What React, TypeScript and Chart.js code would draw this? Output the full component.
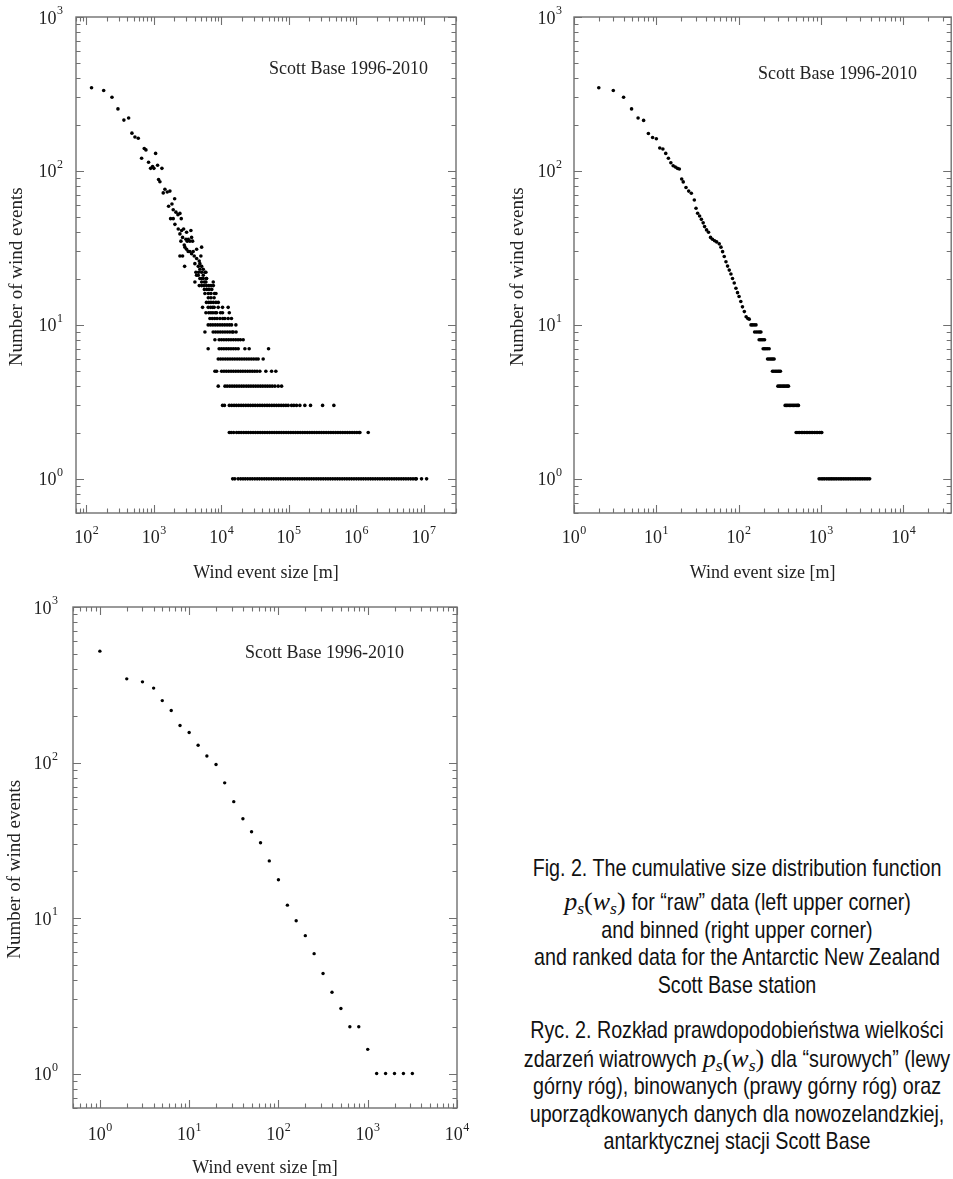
import React, { useEffect, useRef } from "react";
import { Chart, registerables } from "chart.js";

Chart.register(...registerables);

const SERIF = '"Liberation Serif", "Times New Roman", Times, serif';
const SANS = '"Liberation Sans", Arial, Helvetica, sans-serif';

// ---------------- texts ----------------
const panelTitle = "Scott Base 1996-2010";
const xAxisTitle = "Wind event size [m]";
const yAxisTitle = "Number of wind events";

// ---------------- tick labels (10 with exponent) ----------------
const tickBase = "10";
const yTickValues = [1, 10, 100, 1000];
const yTickExps = ["0", "1", "2", "3"];
const xTickValuesRaw = [1e2, 1e3, 1e4, 1e5, 1e6, 1e7];
const xTickExpsRaw = ["2", "3", "4", "5", "6", "7"];
const xTickValuesSmall = [1, 10, 100, 1000, 10000];
const xTickExpsSmall = ["0", "1", "2", "3", "4"];

// ---------------- raw data (upper left) ----------------
const rawScatterSizes = [119, 180, 239, 293, 359, 422, 472, 523, 586, 657, 719, 761, 833, 893, 955, 1000, 1059, 1133, 1314, 1172, 1227, 1374, 1455, 1575, 1726, 1650, 1850, 2028, 1932, 2120, 2270, 2428, 1767, 1932, 2541, 2047, 2293, 2571, 2754, 3050, 3533, 2428, 2660, 2980, 3226, 3616, 2512, 2814, 3113, 3412, 3742, 2877, 3222, 3614, 2660, 4296, 5094, 3955, 4296, 4690, 4966, 4046, 4539, 4800, 5094, 2850, 5383, 4188, 4592, 5094, 5702, 4285, 4540, 5383, 6026, 5094, 4800, 5890, 3820, 3050, 2430, 3415];
const rawScatterCounts = [347, 333, 301, 253, 214, 221, 176, 166, 163, 121, 140, 137, 114, 104, 107, 104, 130, 109, 104, 88, 85, 72, 76, 73, 74, 59, 61, 66, 56, 54, 52, 53, 49, 49, 49, 45, 42, 41, 42, 40, 41, 39, 37, 36, 36, 37, 35, 33, 35, 35, 35, 32, 30, 29, 28, 31, 32, 28, 27, 26, 28, 25, 24, 25, 24, 24, 23, 22, 22, 22, 22, 21, 21, 21, 20, 20, 23, 22, 30, 31, 28, 30];

const rawRowCounts = [1, 2, 3, 4, 5, 6, 7, 8, 9, 10, 11, 12, 13, 14, 15, 16, 17, 18, 19, 20];
const rawRowSizes = [
  [14700, 15800, 17700, 19300, 20900, 22600, 24500, 26600, 28800, 31300, 33900, 36700, 39800, 43200, 46800, 50700, 55000, 59600, 64600, 70000, 75900, 82200, 89100, 96600, 104700, 113500, 123000, 133400, 144500, 156700, 169800, 184100, 199500, 216300, 234400, 254100, 275400, 298500, 323600, 350800, 380200, 412100, 446700, 484200, 524800, 568900, 616600, 668300, 724400, 785200, 851100, 922600, 1000000, 1084000, 1175000, 1274000, 1380000, 1496000, 1622000, 1758000, 1905000, 2065000, 2239000, 2427000, 2630000, 2851000, 3090000, 3350000, 3631000, 3936000, 4266000, 4624000, 5012000, 5433000, 5888000, 6383000, 6918000, 7499000, 7760000, 9250000, 11000000],
  [13100, 14000, 15200, 16800, 18200, 19700, 21400, 23200, 25100, 27200, 29500, 32000, 34700, 37600, 40700, 44100, 47800, 51800, 56200, 60900, 66000, 71500, 77500, 84000, 91000, 98600, 106900, 115800, 125500, 136000, 147400, 159800, 173200, 187700, 203400, 220400, 238900, 258900, 280600, 304100, 329600, 357200, 387100, 419500, 454700, 492800, 534100, 578800, 627300, 679900, 736800, 798600, 865500, 938000, 1016600, 1101800, 1130000, 1500000],
  [10400, 11100, 13100, 14200, 15400, 16700, 18100, 19600, 21200, 23000, 24900, 27000, 29300, 31700, 34400, 37300, 40400, 43800, 47500, 51400, 55800, 60400, 65500, 71000, 77000, 83400, 90400, 97700, 109600, 118600, 130000, 145600, 172600, 209400, 316000, 464500],
  [8980, 11300, 12200, 13300, 14400, 15600, 16900, 18300, 19900, 21500, 23400, 25300, 27400, 29700, 32200, 34900, 37900, 41000, 44500, 48200, 52300, 56700, 62100, 69500, 78000],
  [8020, 8490, 10070, 10920, 11830, 12830, 13900, 15070, 16340, 17710, 19200, 20810, 22560, 24450, 26500, 28730, 31150, 33760, 37150, 45600, 55450, 64100],
  [8980, 9730, 10550, 11440, 12400, 13440, 14570, 15790, 17120, 18560, 20110, 21800, 23640, 25620, 27770, 30100, 32630, 35100, 41600],
  [6370, 9270, 10050, 10890, 11810, 12800, 13870, 15040, 16300, 17750, 22300, 25800, 50000],
  [8020, 9270, 10050, 10890, 11810, 12800, 13870, 15040, 16300, 17670, 19150, 21040],
  [5700, 7550, 8190, 8880, 9630, 10440, 11320, 12270, 13300, 14420, 14960, 16500],
  [6370, 6900, 7480, 8110, 8790, 9530, 10330, 11200, 12140, 13160, 14160, 16400],
  [6760, 7330, 7950, 8620, 9510, 10500, 11270, 12600, 14100],
  [5900, 6500, 7000, 7500, 8100, 8500, 9700, 10400, 13100],
  [5260, 6370, 6900, 7400, 7810, 8980, 10400, 12600],
  [6000, 6500, 7000, 7600, 8300, 9000],
  [6400, 7000, 7800],
  [5700, 6400, 7000, 7900, 8300],
  [5600, 6100, 6600, 7200],
  [4700, 5100, 5500, 6000, 6500, 7000, 7600],
  [4050, 5100, 5600, 5900, 7570],
  [4800, 5400, 6000],
];

// ---------------- binned data (upper right) ----------------
const binChainSizes = [2, 3, 4, 5, 6, 7, 8, 9, 10, 11, 12, 13, 14, 15, 16, 17, 18, 19, 20.3, 21.2, 22.9, 24.7, 26.6, 28.9, 30.3, 31.7, 33.5, 35.2, 37, 38.5, 40.7, 43, 45.5, 48, 51, 54, 58, 60.9, 63.7, 66.7, 70, 73.2, 76.7, 80.4, 84.1, 88.2, 92.5, 96.7, 101, 106, 111, 117, 123, 129, 134];
const binChainCounts = [347, 333, 301, 253, 221, 213, 175, 165, 162, 141, 139, 130, 121, 113, 108, 106, 104, 103, 88.7, 84.9, 78, 74, 71.7, 64.8, 57.3, 53.1, 51, 48.5, 46, 43.5, 41.4, 40, 37, 36, 35.2, 34.6, 33.6, 32, 29.9, 27.8, 25.7, 24.1, 22.7, 21.4, 20, 18.7, 17.3, 16.2, 15.3, 14.2, 13.1, 12.2, 11.3, 11, 10.9];
const binRowCounts = [10, 9, 8, 7, 6, 5, 4, 3, 2, 1];
const binRowSizes = [
  [141, 147, 154, 162],
  [156, 164, 172, 180, 186],
  [177, 184, 191, 198, 206],
  [198, 206, 214, 223, 234],
  [224, 233, 242, 251, 260, 269],
  [257, 267, 278, 289, 300, 310, 321],
  [299, 311, 323, 336, 349, 362, 376, 390, 402],
  [366, 381, 396, 412, 428, 445, 463, 481, 500, 520, 531],
  [498, 525, 550, 575, 600, 630, 660, 690, 720, 755, 790, 830, 870, 910, 955, 1000, 1019],
  [946, 1000, 1050, 1100, 1160, 1220, 1280, 1340, 1400, 1470, 1540, 1620, 1700, 1780, 1870, 1960, 2060, 2160, 2270, 2380, 2500, 2620, 2750, 2890, 3030, 3180, 3340, 3510, 3690, 3890],
];

// ---------------- ranked data (bottom) ----------------
const rankSizes = [1, 2, 3, 4, 5, 6.3, 7.9, 10, 12.6, 15.8, 20, 25, 31.6, 40, 50, 63, 79, 100, 126, 158, 200, 251, 316, 398, 501, 631, 794, 1000, 1259, 1585, 1995, 2512, 3162];
const rankCounts = [520, 345, 330, 301, 250, 216, 173, 156, 129, 110, 97, 74, 56, 43.5, 35.9, 30.5, 23.3, 17.6, 12.1, 9.6, 7.7, 5.9, 4.4, 3.33, 2.62, 2, 2, 1.43, 1, 1, 1, 1, 1];

// ---------------- build point lists ----------------
type Pt = { x: number; y: number };
const zipPts = (xs: number[], ys: number[]): Pt[] => xs.map((x, i) => ({ x, y: ys[i] }));
const rowPts = (counts: number[], rows: number[][]): Pt[] =>
  rows.flatMap((sizes, i) => sizes.map((s) => ({ x: s, y: counts[i] })));

const rawPoints = [...zipPts(rawScatterSizes, rawScatterCounts), ...rowPts(rawRowCounts, rawRowSizes)];
const binPoints = [...zipPts(binChainSizes, binChainCounts), ...rowPts(binRowCounts, binRowSizes)];
const rankPoints = zipPts(rankSizes, rankCounts);

// ---------------- frame + inward ticks plugin ----------------
const frameTicksPlugin = {
  id: "frameTicks",
  afterDatasetsDraw(chart: any) {
    const { ctx, chartArea: a } = chart;
    const xs = chart.scales.x;
    const ys = chart.scales.y;
    const marks = (scale: any) => {
      const out: [number, boolean][] = [];
      const lo = Math.floor(Math.log10(scale.min));
      const hi = Math.ceil(Math.log10(scale.max));
      for (let e = lo; e <= hi; e++) {
        for (let m = 1; m <= 9; m++) {
          const v = m * Math.pow(10, e);
          if (v >= scale.min * 0.999 && v <= scale.max * 1.001) out.push([v, m === 1]);
        }
      }
      return out;
    };
    ctx.save();
    ctx.strokeStyle = "#707070";
    ctx.lineWidth = 1.4;
    ctx.strokeRect(a.left, a.top, a.right - a.left, a.bottom - a.top);
    ctx.lineWidth = 1.1;
    ctx.beginPath();
    for (const [v, major] of marks(xs)) {
      const px = Math.round(xs.getPixelForValue(v)) + 0.5;
      const L = major ? 8 : 4.5;
      ctx.moveTo(px, a.bottom);
      ctx.lineTo(px, a.bottom - L);
      ctx.moveTo(px, a.top);
      ctx.lineTo(px, a.top + L);
    }
    for (const [v, major] of marks(ys)) {
      const py = Math.round(ys.getPixelForValue(v)) + 0.5;
      const L = major ? 8 : 4.5;
      ctx.moveTo(a.left, py);
      ctx.lineTo(a.left + L, py);
      ctx.moveTo(a.right, py);
      ctx.lineTo(a.right - L, py);
    }
    ctx.stroke();
    ctx.restore();
  },
};

// ---------------- "10^n" tick labels drawn at scale positions ----------------
const powerLabelsPlugin = {
  id: "powerLabels",
  afterDraw(chart: any, _args: any, opts: any) {
    const { ctx, chartArea: a } = chart;
    const xs = chart.scales.x;
    const ys = chart.scales.y;
    const big = `18px ${SERIF}`;
    const small = `12px ${SERIF}`;
    ctx.save();
    ctx.fillStyle = "#222";
    ctx.textBaseline = "alphabetic";
    ctx.textAlign = "left";
    const measure = (exp: string) => {
      ctx.font = big;
      const w1 = ctx.measureText(tickBase).width;
      ctx.font = small;
      return { w1, w: w1 + 0.5 + ctx.measureText(exp).width };
    };
    const draw = (exp: string, left: number, base: number, w1: number) => {
      ctx.font = big;
      ctx.fillText(tickBase, left, base);
      ctx.font = small;
      ctx.fillText(exp, left + w1 + 0.5, base - 9.5);
    };
    opts.xTicks.forEach((v: number, i: number) => {
      const px = xs.getPixelForValue(v);
      const { w1, w } = measure(opts.xExps[i]);
      draw(opts.xExps[i], px - w / 2, a.bottom + opts.xBaseOffset, w1);
    });
    yTickValues.forEach((v: number, i: number) => {
      const py = ys.getPixelForValue(v);
      const { w1, w } = measure(yTickExps[i]);
      draw(yTickExps[i], a.left - opts.yRightGap - w, py + 6.5, w1);
    });
    ctx.restore();
  },
};

type PanelProps = {
  left: number; top: number; width: number; height: number;
  points: Pt[]; radius: number;
  xMin: number; xMax: number; yMin: number; yMax: number;
  xTicks: number[]; xExps: string[];
  padTop: number; padRight: number;
  yAxisWidth: number; xAxisHeight: number;
  yRightGap: number; xBaseOffset: number; yTitlePad: number; xTitlePad: number;
};

function Panel(p: PanelProps) {
  const ref = useRef<HTMLCanvasElement>(null);
  useEffect(() => {
    if (!ref.current) return;
    const chart = new Chart(ref.current, {
      type: "scatter",
      data: {
        datasets: [
          {
            data: p.points,
            backgroundColor: "#000",
            borderWidth: 0,
            pointRadius: p.radius,
            pointHoverRadius: p.radius,
          },
        ],
      },
      options: {
        animation: false,
        responsive: false,
        events: [],
        layout: { padding: { top: p.padTop, right: p.padRight, left: 0, bottom: 0 } },
        plugins: {
          legend: { display: false },
          tooltip: { enabled: false },
          powerLabels: {
            xTicks: p.xTicks,
            xExps: p.xExps,
            xBaseOffset: p.xBaseOffset,
            yRightGap: p.yRightGap,
          },
        },
        scales: {
          x: {
            type: "logarithmic",
            position: "bottom",
            bounds: "data",
            min: p.xMin,
            max: p.xMax,
            grid: { display: false, drawTicks: false },
            border: { display: false },
            afterBuildTicks: (s: any) => {
              s.ticks = p.xTicks.map((v) => ({ value: v }));
            },
            afterFit: (s: any) => {
              s.height = p.xAxisHeight;
              s.paddingLeft = 0;
              s.paddingRight = 0;
            },
            ticks: { display: false },
            title: {
              display: true,
              text: xAxisTitle,
              color: "#222",
              font: { family: SERIF, size: 18 },
              padding: { top: 0, bottom: p.xTitlePad },
            },
          },
          y: {
            type: "logarithmic",
            position: "left",
            bounds: "data",
            min: p.yMin,
            max: p.yMax,
            grid: { display: false, drawTicks: false },
            border: { display: false },
            afterBuildTicks: (s: any) => {
              s.ticks = yTickValues.map((v) => ({ value: v }));
            },
            afterFit: (s: any) => {
              s.width = p.yAxisWidth;
              s.paddingTop = 0;
              s.paddingBottom = 0;
            },
            ticks: { display: false },
            title: {
              display: true,
              text: yAxisTitle + "\u00a0\u00a0\u00a0\u00a0\u00a0",
              color: "#222",
              font: { family: SERIF, size: 19 },
              padding: { top: p.yTitlePad, bottom: 0 },
            },
          },
        },
      },
      plugins: [frameTicksPlugin, powerLabelsPlugin],
    } as any);
    return () => chart.destroy();
  }, []);
  return (
    <canvas
      ref={ref}
      width={p.width}
      height={p.height}
      style={{ position: "absolute", left: p.left, top: p.top, width: p.width, height: p.height }}
    />
  );
}

const MATH = "__MATH__";
const captionEn: string[][] = [
  ["Fig. 2. The cumulative size distribution function"],
  [MATH, " for \u201craw\u201d data (left upper corner)"],
  ["and binned (right upper corner)"],
  ["and ranked data for the Antarctic New Zealand"],
  ["Scott Base station"],
];
const captionPl: string[][] = [
  ["Ryc. 2. Rozkład prawdopodobieństwa wielkości"],
  ["zdarzeń wiatrowych ", MATH, " dla \u201csurowych\u201d (lewy"],
  ["górny róg), binowanych (prawy górny róg) oraz"],
  ["uporządkowanych danych dla nowozelandzkiej,"],
  ["antarktycznej stacji Scott Base"],
];
const captionCentersEn = [869, 903, 931, 958, 986];
const captionCentersPl = [1031, 1060, 1087, 1115, 1142];
const NARROW = 0.82;

function MathPs({ size }: { size: number }) {
  const sub: React.CSSProperties = { fontSize: "0.68em", fontStyle: "italic", verticalAlign: "-0.25em", lineHeight: 0 };
  return (
    <span
      style={{
        display: "inline-block",
        fontFamily: SERIF,
        fontSize: size,
        lineHeight: "28px",
        transform: `scaleX(${1 / NARROW})`,
        margin: "0 0.3em",
      }}
    >
      <i>p</i>
      <span style={sub}>s</span>
      (<i>w</i>
      <span style={sub}>s</span>)
    </span>
  );
}

function CaptionLine({ segs, center }: { segs: string[]; center: number }) {
  return (
    <div
      style={{
        position: "absolute",
        left: 437,
        width: 600,
        top: center - 15,
        height: 28,
        textAlign: "center",
        fontFamily: SANS,
        fontSize: 24,
        lineHeight: "28px",
        whiteSpace: "nowrap",
        color: "#111",
        transform: `scaleX(${NARROW})`,
        transformOrigin: "50% 50%",
      }}
    >
      {segs.map((s, i) => (s === MATH ? <MathPs key={i} size={26} /> : <span key={i}>{s}</span>))}
    </div>
  );
}

function Annotation({ left, top }: { left: number; top: number }) {
  return (
    <div
      style={{
        position: "absolute",
        left,
        top,
        fontFamily: SERIF,
        fontSize: 18,
        lineHeight: "18px",
        whiteSpace: "nowrap",
        color: "#222",
      }}
    >
      {panelTitle}
    </div>
  );
}

export default function App() {
  return (
    <div
      style={{
        position: "absolute",
        left: 0,
        top: 0,
        width: 953,
        height: 1179,
        overflow: "hidden",
        background: "#fff",
      }}
    >
      <Panel
        left={0} top={0} width={470} height={590}
        points={rawPoints} radius={1.8}
        xMin={70} xMax={3e7} yMin={0.6} yMax={1000}
        xTicks={xTickValuesRaw} xExps={xTickExpsRaw}
        padTop={17} padRight={14}
        yAxisWidth={76} xAxisHeight={77}
        yRightGap={13} xBaseOffset={30} yTitlePad={6} xTitlePad={6}
      />
      <Panel
        left={480} top={0} width={473} height={590}
        points={binPoints} radius={1.8}
        xMin={1} xMax={38000} yMin={0.6} yMax={1000}
        xTicks={xTickValuesSmall} xExps={xTickExpsSmall}
        padTop={17} padRight={1}
        yAxisWidth={94} xAxisHeight={77}
        yRightGap={12} xBaseOffset={30} yTitlePad={27} xTitlePad={6}
      />
      <Panel
        left={0} top={590} width={470} height={589}
        points={rankPoints} radius={1.7}
        xMin={0.5} xMax={10000} yMin={0.6} yMax={1000}
        xTicks={xTickValuesSmall} xExps={xTickExpsSmall}
        padTop={17} padRight={13}
        yAxisWidth={73} xAxisHeight={71}
        yRightGap={15} xBaseOffset={32} yTitlePad={4} xTitlePad={0}
      />
      <Annotation left={269} top={59} />
      <Annotation left={758} top={64} />
      <Annotation left={245} top={643} />
      {captionEn.map((segs, i) => (
        <CaptionLine key={"en" + i} segs={segs} center={captionCentersEn[i]} />
      ))}
      {captionPl.map((segs, i) => (
        <CaptionLine key={"pl" + i} segs={segs} center={captionCentersPl[i]} />
      ))}
    </div>
  );
}
